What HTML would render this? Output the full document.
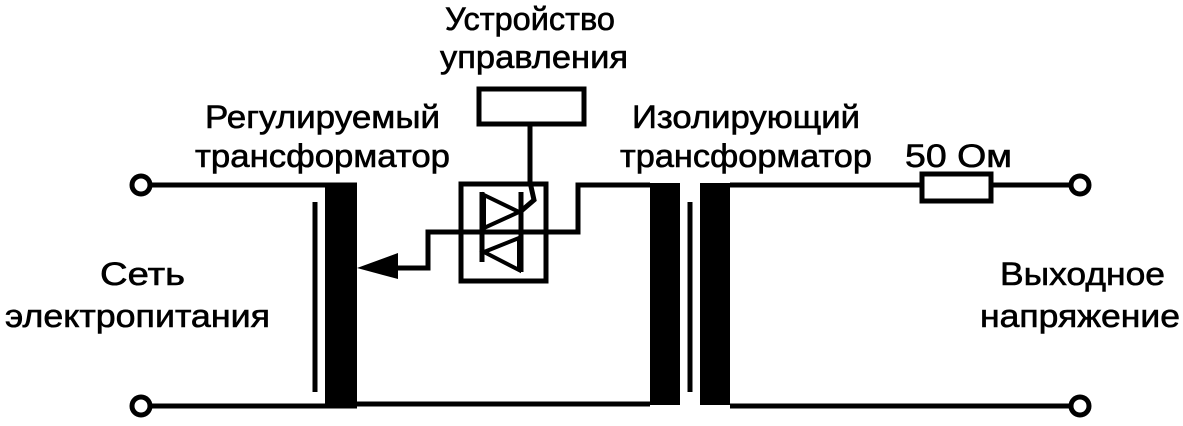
<!DOCTYPE html>
<html><head><meta charset="utf-8"><style>
body{margin:0;background:#fff}
svg text{font-family:"Liberation Sans","DejaVu Sans",sans-serif;font-size:32px;fill:#000;stroke:#000;stroke-width:0.6}
</style></head><body>
<svg width="1183" height="421" viewBox="0 0 1183 421" xmlns="http://www.w3.org/2000/svg">
<g stroke="#000" stroke-width="5" fill="none">
<line x1="150" y1="185" x2="357" y2="185"/>
<line x1="150" y1="406" x2="357" y2="406"/>
<line x1="357" y1="404" x2="650" y2="404"/>
<line x1="730" y1="185" x2="920" y2="185"/>
<line x1="993" y1="185" x2="1070" y2="185"/>
<line x1="730" y1="406" x2="1070" y2="406"/>
<rect x="922" y="174" width="69" height="27"/>
<circle cx="141" cy="185" r="9"/>
<circle cx="141" cy="406" r="9"/>
<circle cx="1080" cy="185" r="9"/>
<circle cx="1080" cy="406" r="9"/>
<line x1="315" y1="202" x2="315" y2="392"/>
<line x1="690" y1="202" x2="690" y2="392"/>
<polyline points="398,268 428,268 428,232 578,232 578,185 650,185"/>
<rect x="461" y="184" width="85" height="97"/>
<rect x="479" y="89" width="105" height="35"/>
<polyline points="530,124 530,182 534,200 520,212"/>
<line x1="482" y1="192" x2="482" y2="262"/>
<line x1="521" y1="192" x2="521" y2="272"/>
<polygon points="484,195 519,212 484,228" stroke-width="4"/>
<polygon points="519,238 484,252 519,270" stroke-width="4"/>
</g>
<rect x="325" y="183" width="32" height="222" fill="#000"/>
<rect x="650" y="183" width="30" height="222" fill="#000"/>
<rect x="700" y="183" width="30" height="222" fill="#000"/>
<polygon points="357,268 398,253 398,279" fill="#000"/>
<text x="445" y="30" textLength="170" lengthAdjust="spacingAndGlyphs">Устройство</text>
<text x="440" y="68" textLength="188" lengthAdjust="spacingAndGlyphs">управления</text>
<text x="205" y="128" textLength="235" lengthAdjust="spacingAndGlyphs">Регулируемый</text>
<text x="195" y="167" textLength="255" lengthAdjust="spacingAndGlyphs">трансформатор</text>
<text x="632" y="128" textLength="228" lengthAdjust="spacingAndGlyphs">Изолирующий</text>
<text x="620" y="167" textLength="252" lengthAdjust="spacingAndGlyphs">трансформатор</text>
<text x="905" y="167" textLength="107" lengthAdjust="spacingAndGlyphs">50 Ом</text>
<text x="100" y="285" textLength="85" lengthAdjust="spacingAndGlyphs">Сеть</text>
<text x="5" y="327" textLength="265" lengthAdjust="spacingAndGlyphs">электропитания</text>
<text x="1000" y="285" textLength="165" lengthAdjust="spacingAndGlyphs">Выходное</text>
<text x="980" y="327" textLength="200" lengthAdjust="spacingAndGlyphs">напряжение</text>
</svg>
</body></html>
